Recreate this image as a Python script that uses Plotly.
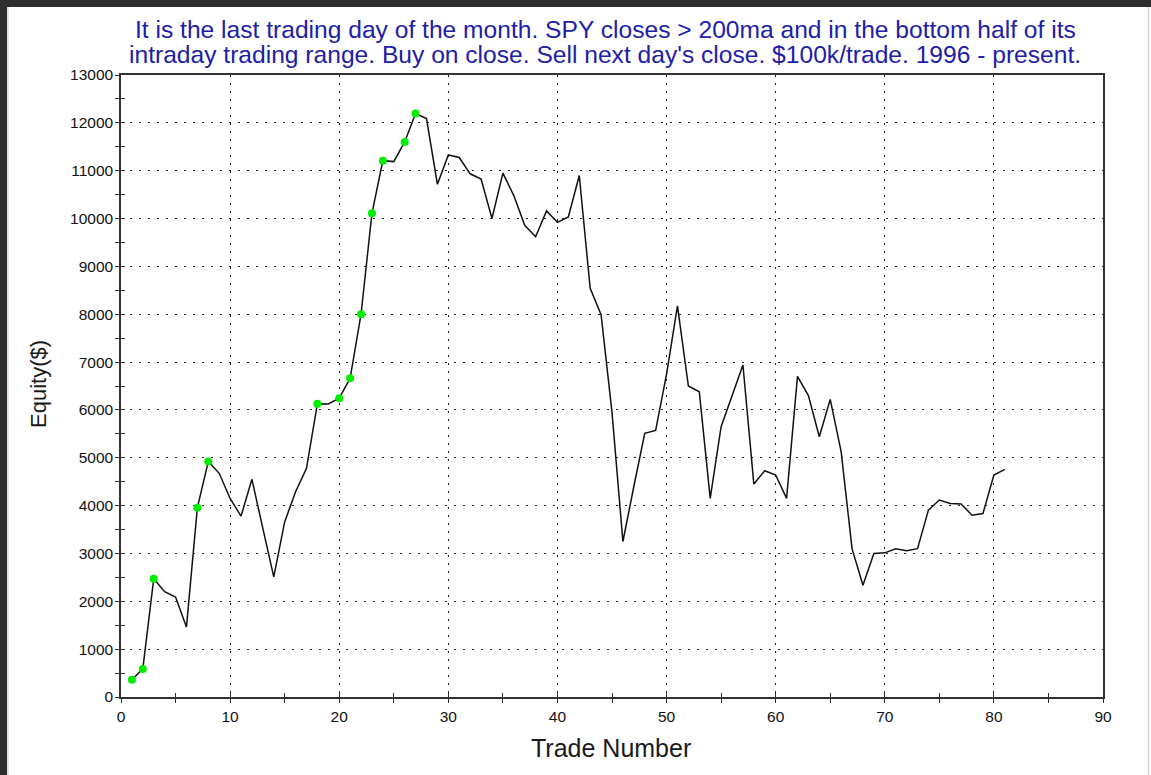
import plotly.graph_objects as go

trade_number = list(range(1, 82))
equity = [
    363, 586, 2470, 2200, 2090, 1465, 3957, 4920, 4675, 4150,
    3780, 4550, 3525, 2510, 3660, 4290, 4780, 6130, 6125, 6245,
    6660, 8000, 10110, 11210, 11190, 11600, 12195, 12090, 10715, 11330,
    11275, 10935, 10825, 10000, 10950, 10480, 9860, 9620, 10160, 9920,
    10035, 10900, 8540, 7990, 5950, 3250, 4400, 5510, 5570, 6750,
    8175, 6500, 6380, 4150, 5650, 6280, 6940, 4450, 4730, 4640,
    4150, 6700, 6300, 5440, 6220, 5130, 3100, 2335, 3000, 3013,
    3100, 3055, 3100, 3906, 4116, 4046, 4032, 3800, 3836, 4640,
    4758,
]

# new equity highs (green markers)
high_x, high_y = [], []
run_max = float("-inf")
for t, v in zip(trade_number, equity):
    if v > run_max:
        high_x.append(t)
        high_y.append(v)
        run_max = v

title_lines = [
    "It is the last trading day of the month. SPY closes > 200ma and in the bottom half of its",
    "intraday trading range. Buy on close. Sell next day's close. $100k/trade. 1996 - present.",
]

W, H = 1151, 775
L, R, T, B = 121, 48, 75, 78
pw, ph = W - L - R, H - T - B

def px(x):
    return (x - L) / pw

def py(y):
    return (H - B - y) / ph

FONT = "Liberation Sans, Arial, sans-serif"

fig = go.Figure()
fig.add_trace(go.Scatter(
    x=trade_number, y=equity, mode="lines",
    line=dict(color="#111111", width=1.5),
    hoverinfo="x+y", showlegend=False,
))
fig.add_trace(go.Scatter(
    x=high_x, y=high_y, mode="markers",
    marker=dict(color="#00ee00", size=8, line=dict(width=0)),
    showlegend=False,
))
# overlay axes for inside ticks
fig.add_trace(go.Scatter(
    x=trade_number, y=equity, mode="lines", xaxis="x2", yaxis="y2",
    line=dict(width=0, color="rgba(0,0,0,0)"), hoverinfo="skip", showlegend=False,
))

axis_common = dict(
    showline=True, linecolor="#333333", linewidth=1.5, mirror=True,
    ticks="outside", ticklen=4, tickwidth=1.3, tickcolor="#333333",
    zeroline=False, tickformat="d",
    tickfont=dict(family=FONT, size=15.5, color="#111111"),
)

annotations = [
    dict(text="Trade Number", xref="paper", yref="paper",
         x=px(611), y=py(748), xanchor="center", yanchor="middle", showarrow=False,
         font=dict(family=FONT, size=25, color="#1a1a1a")),
    dict(text="Equity($)", xref="paper", yref="paper",
         x=px(38), y=py(384), xanchor="center", yanchor="middle", showarrow=False,
         textangle=-90, font=dict(family=FONT, size=22, color="#1a1a1a")),
]
for line_text, yc in zip(title_lines, [29, 54]):
    annotations.append(dict(text=line_text, xref="paper", yref="paper",
                            x=px(605), y=py(yc), xanchor="center", yanchor="middle",
                            showarrow=False,
                            font=dict(family=FONT, size=24.6, color="#2020a8")))

frame_shapes = [
    dict(type="line", xref="paper", yref="paper", x0=px(3.5), x1=px(3.5), y0=py(H), y1=py(0),
         line=dict(color="#2e2e2e", width=7), layer="above"),
    dict(type="line", xref="paper", yref="paper", x0=px(0), x1=px(W), y0=py(3.5), y1=py(3.5),
         line=dict(color="#2e2e2e", width=7), layer="above"),
    dict(type="line", xref="paper", yref="paper", x0=px(8), x1=px(8), y0=py(H), y1=py(7),
         line=dict(color="#d8d8d8", width=1.5), layer="above"),
    dict(type="line", xref="paper", yref="paper", x0=px(1148.5), x1=px(1148.5), y0=py(H), y1=py(7),
         line=dict(color="#d8d8d8", width=1.5), layer="above"),
]

fig.update_layout(
    width=W, height=H,
    margin=dict(l=L, r=R, t=T, b=B),
    paper_bgcolor="white", plot_bgcolor="white",
    xaxis=dict(range=[0, 90], dtick=10, tick0=0,
               showgrid=True, gridcolor="#222222", gridwidth=1, griddash="2px,6px",
               minor=dict(dtick=5, ticks="outside", ticklen=4, tickcolor="#333333", tickwidth=1.3, showgrid=False),
               ticklabelstandoff=1,
               **axis_common),
    yaxis=dict(range=[0, 13000], dtick=1000, tick0=0,
               showgrid=True, gridcolor="#222222", gridwidth=1, griddash="2px,7px",
               minor=dict(dtick=500, ticks="outside", ticklen=4, tickcolor="#333333", tickwidth=1.3, showgrid=False),
               ticklabelstandoff=-1,
               **axis_common),
    xaxis2=dict(range=[0, 90], overlaying="x", anchor="y2", side="bottom",
                showgrid=False, zeroline=False, showticklabels=False, showline=False,
                ticks="inside", ticklen=4, tickwidth=1.3, tickcolor="#333333", dtick=5, tick0=0),
    yaxis2=dict(range=[0, 13000], overlaying="y", anchor="x2", side="left",
                showgrid=False, zeroline=False, showticklabels=False, showline=False,
                ticks="inside", ticklen=4, tickwidth=1.3, tickcolor="#333333", dtick=500, tick0=0),
    annotations=annotations,
    shapes=frame_shapes,
    hovermode="closest",
)

post = """
document.body.style.margin='0';
document.documentElement.style.margin='0';
var bars = [
  'position:fixed;left:0;top:0;width:7px;height:100%;background:#2e2e2e;z-index:1000;pointer-events:none;',
  'position:fixed;left:0;top:0;width:100%;height:7px;background:#2e2e2e;z-index:1000;pointer-events:none;'
];
bars.forEach(function(css){ var d=document.createElement('div'); d.style.cssText=css; document.body.appendChild(d); });
"""

fig.write_html("out.html", config={"displayModeBar": False}, post_script=post)
